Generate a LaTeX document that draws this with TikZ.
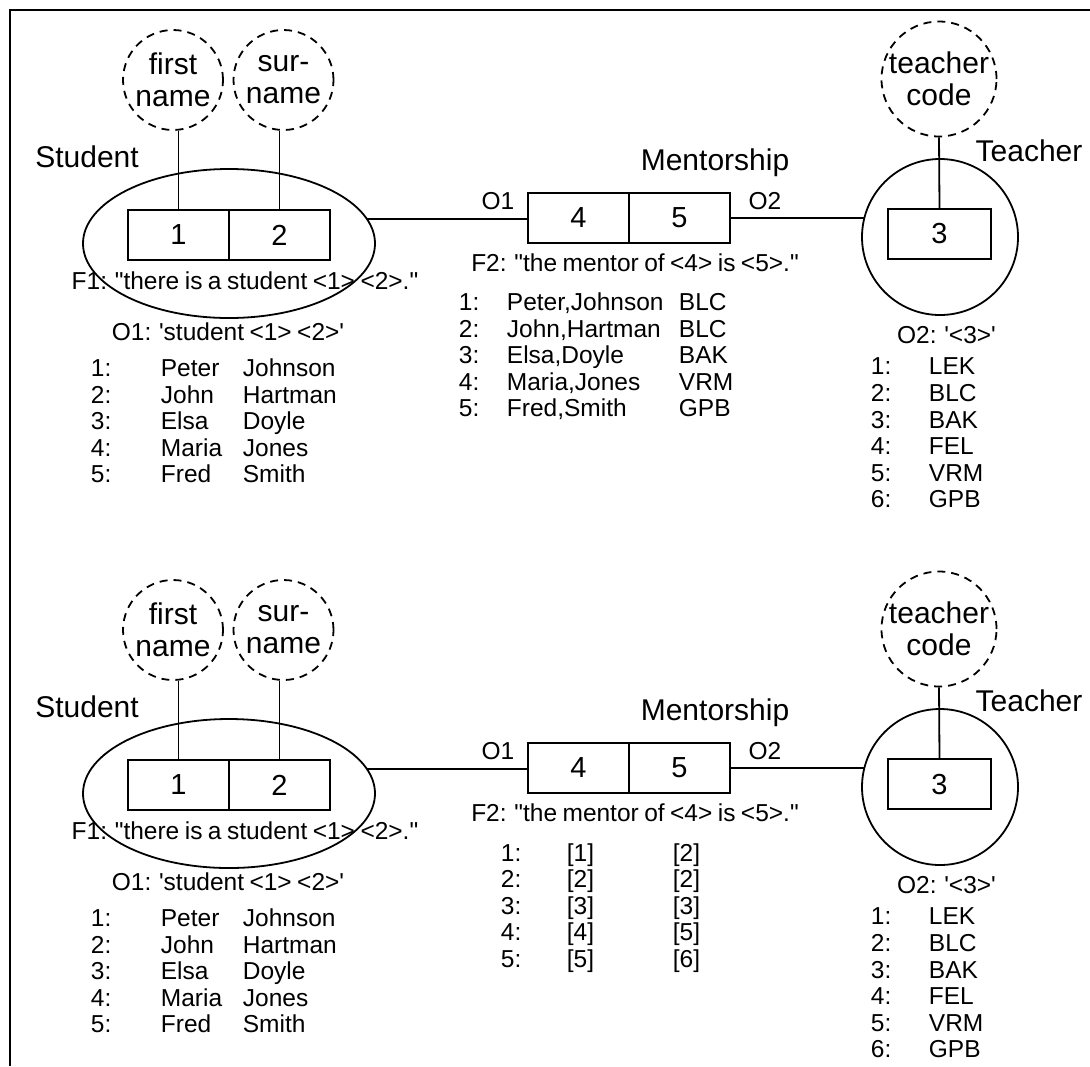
\documentclass[tikz,border=0pt]{standalone}
\usepackage{fontspec}
\setmainfont{Liberation Sans}[Ligatures=TeXOff,WordSpace=0.8]
\usetikzlibrary{shapes.geometric,positioning}

\begin{document}
\begin{tikzpicture}[x=0.5pt,y=-0.5pt,line width=0.9pt,
  lbl/.style={inner sep=0pt,text height=8.8pt,text depth=0pt,font=\fontsize{12.25}{14}\selectfont},
  big/.style={inner sep=0pt,text height=10.7pt,text depth=0pt,font=\fontsize{15}{16}\selectfont},
  row/.style={lbl,anchor=west},
  attr/.style={circle,draw,dash pattern=on 4pt off 3pt,align=center,inner sep=0pt,font=\fontsize{15}{16}\selectfont},
  cell/.style={draw,minimum width=50.5pt,minimum height=25pt,inner sep=0pt,outer sep=0pt,font=\fontsize{14.5}{16}\selectfont}]
\useasboundingbox (0,0) rectangle (1090,1066);
% frame
\draw (10,1066) -- (10,10) -- (1090,10);

\foreach \dy/\s in {0/a,550/b} {
\begin{scope}[shift={(0,\dy)}]
% Student entity
\node[draw,ellipse,minimum width=146pt,minimum height=74.5pt,inner sep=0pt,outer sep=0pt] (stud\s) at (229,243.5) {};
\node[cell] (c1\s) at (178.5,235) {1};
\node[cell,right=0pt of c1\s] (c2\s) {2};
\node[attr,minimum size=50pt] (fn\s) at (173,80) {first\\name};
\node[attr,minimum size=50pt] (sn\s) at (283.5,80) {sur-\\name};
\draw (c1\s.north) -- (c1\s.north |- fn\s.south);
\draw (c2\s.north) -- (c2\s.north |- sn\s.south);
\node[big] (slab\s) at (87,157) {Student};
\node[lbl] (f1\s) at (245,281) {F1: "there is a student <1> <2>."};
\node[lbl] (o1t\s) at (228,332) {O1: 'student <1> <2>'};
\foreach \fst/\lst [count=\k] in {Peter/Johnson,John/Hartman,Elsa/Doyle,Maria/Jones,Fred/Smith} {
  \node[row] (sk\s\k) at (90,{368+26.4*(\k-1)}) {\k:};
  \node[row] (sf\s\k) at (160,{368+26.4*(\k-1)}) {\fst};
  \node[row] (sl\s\k) at (242,{368+26.4*(\k-1)}) {\lst};
}
% Mentorship fact type
\node[cell] (m4\s) at (578.5,218) {4};
\node[cell,right=0pt of m4\s] (m5\s) {5};
\node[big] (ment\s) at (715,160) {Mentorship};
\node[lbl] (o1\s) at (498,201) {O1};
\node[lbl] (o2\s) at (765,201) {O2};
\node[lbl] (f2\s) at (635,263) {F2: "the mentor of <4> is <5>."};
% Teacher entity
\node[draw,circle,minimum size=78pt,inner sep=0pt,outer sep=0pt] (tch\s) at (940,237) {};
\node[cell,minimum width=51.5pt] (t3\s) at (939.5,234) {3};
\node[attr,minimum size=57.5pt] (tc\s) at (939,79) {teacher\\code};
\draw (tc\s.south) -- (t3\s.north);
\node[big] (tlab\s) at (1029,151) {Teacher};
\node[lbl] (o2t\s) at (946.5,335) {O2: '<3>'};
\foreach \cd [count=\k] in {LEK,BLC,BAK,FEL,VRM,GPB} {
  \node[row] (tk\s\k) at (870,{366+26.6*(\k-1)}) {\k:};
  \node[row] (tv\s\k) at (928,{366+26.6*(\k-1)}) {\cd};
}
% roles
\draw (stud\s.10.5) -- (stud\s.10.5 -| m4\s.west);
\draw (m5\s.east) -- (m5\s.east -| tch\s.167);
\end{scope}
}

% population of F2 (names)
\foreach \nm/\cd [count=\k] in {{Peter,Johnson}/BLC,{John,Hartman}/BLC,{Elsa,Doyle}/BAK,{Maria,Jones}/VRM,{Fred,Smith}/GPB} {
  \node[row] (mk\k) at (458,{302+26.5*(\k-1)}) {\k:};
  \node[row] (mn\k) at (506,{302+26.5*(\k-1)}) {\nm};
  \node[row] (mc\k) at (678,{302+26.5*(\k-1)}) {\cd};
}
% population of F2 (object numbers)
\foreach \ma/\mb [count=\k] in {[1]/[2],[2]/[2],[3]/[3],[4]/[5],[5]/[6]} {
  \node[row] (rk\k) at (500,{852.5+26.5*(\k-1)}) {\k:};
  \node[row] (ra\k) at (566,{852.5+26.5*(\k-1)}) {\ma};
  \node[row] (rb\k) at (672,{852.5+26.5*(\k-1)}) {\mb};
}
\end{tikzpicture}
\end{document}
